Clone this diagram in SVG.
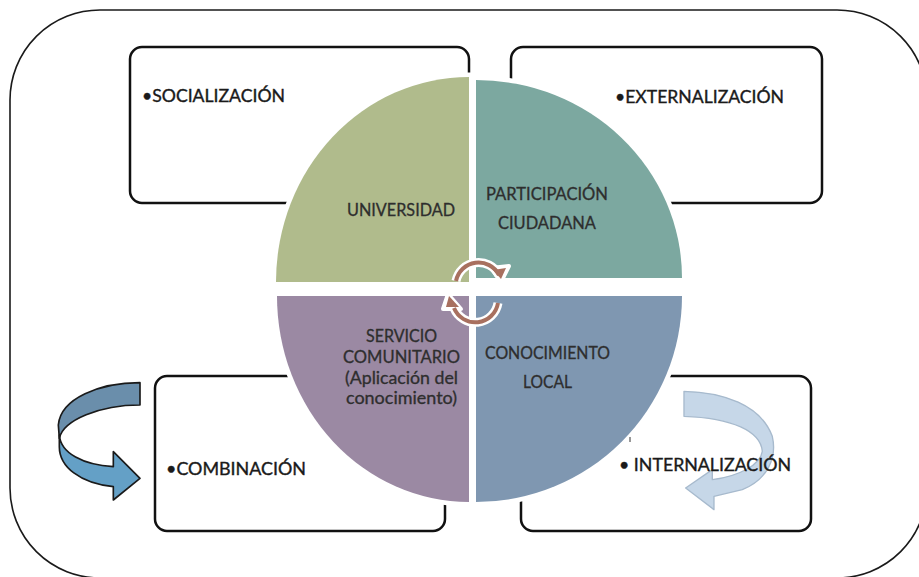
<svg xmlns="http://www.w3.org/2000/svg" width="919" height="577" viewBox="0 0 919 577">
<style>
.box{fill:#fff;stroke:#111;stroke-width:2.5}
.q{stroke:#fff;stroke-width:9;paint-order:stroke}
.lbl{font-family:Lato,"Open Sans","Liberation Sans",sans-serif;font-size:16.5px;fill:#1a1a1a;stroke:#1a1a1a;stroke-width:0.35}
.ql{font-family:Lato,"Open Sans","Liberation Sans",sans-serif;font-size:16.5px;fill:#2e2e2e;stroke:#2e2e2e;stroke-width:0.3}
.cyc{fill:none;stroke-linecap:butt}
</style>
<rect width="919" height="577" fill="#fff"/>
<rect x="10" y="10" width="917" height="568" rx="90" ry="90" fill="none" stroke="#1a1a1a" stroke-width="1.6"/>

<g id="box-socializacion">
<rect class="box" x="130" y="47" width="339" height="156" rx="12"/>
</g>
<g id="box-externalizacion">
<rect class="box" x="511" y="47" width="311" height="156" rx="12"/>
</g>
<g id="box-combinacion">
<rect class="box" x="155" y="376" width="290" height="155" rx="12"/>
</g>
<g id="box-internalizacion">
<rect class="box" x="521" y="376" width="290" height="155" rx="12"/>
</g>

<g id="q-universidad">
<path class="q" fill="#b0bb8c" d="M469 282 L276 282 A193 205 0 0 1 469 77 Z"/>
</g>
<g id="q-participacion">
<path class="q" fill="#7ca8a0" d="M476 278 L476 80 A206 198 0 0 1 682 278 Z"/>
</g>
<g id="q-servicio">
<path class="q" fill="#9b89a3" d="M469 296 L469 502 A192 206 0 0 1 277 296 Z"/>
</g>
<g id="q-conocimiento">
<path class="q" fill="#7f97b1" d="M476 296 L682 296 A206 206 0 0 1 476 502 Z"/>
</g>

<g id="connectors">
<g id="cycle-arrows">
<path class="cyc" d="M456 281 A23 23 0 0 1 499 275" stroke="#fff" stroke-width="9"/>
<polygon points="491,268 509,266 501,282" fill="#fff" stroke="#fff" stroke-width="4" stroke-linejoin="round"/>
<path class="cyc" d="M456 281 A23 23 0 0 1 499 275" stroke="#a8705f" stroke-width="4"/>
<polygon points="493,270 506,268 501,279" fill="#a8705f"/>
<path class="cyc" d="M498 303 A23 23 0 0 1 454 308" stroke="#fff" stroke-width="9"/>
<polygon points="461,309 443,309 448,294" fill="#fff" stroke="#fff" stroke-width="4" stroke-linejoin="round"/>
<path class="cyc" d="M498 303 A23 23 0 0 1 454 308" stroke="#a8705f" stroke-width="4"/>
<polygon points="459,307 446,307 449,296" fill="#a8705f"/>
</g>
<g id="arrow-left" transform="translate(40 370) scale(0.3333)">
<path d="M300 38 C180 38 62 85 55 165 L58 205 C70 150 180 105 300 105 Z" fill="#6a8eab" stroke="#1a1a1a" stroke-width="5" stroke-linejoin="round"/>
<path d="M58 195 C62 250 130 285 220 290 L220 245 L300 325 L220 390 L220 350 C120 340 58 290 58 230 Z" fill="#64a0c6" stroke="#1a1a1a" stroke-width="5" stroke-linejoin="round"/>
</g>
<g id="arrow-right" transform="translate(459 288) scale(0.3333)">
<path d="M675 310 C790 312 905 350 940 445 C955 510 925 575 850 605 L765 625 L765 665 L680 600 L760 545 L760 575 C840 565 905 530 910 490 C905 430 820 390 675 385 Z" fill="#c6d7e8" stroke="#a7bacd" stroke-width="4" stroke-linejoin="round"/>
</g>
</g>

<line x1="630" y1="437" x2="630" y2="442" stroke="#333" stroke-width="1"/>

<g id="labels">
<text class="lbl" x="142" y="102" textLength="143" lengthAdjust="spacingAndGlyphs">•SOCIALIZACIÓN</text>
<text class="lbl" x="615" y="103" textLength="169" lengthAdjust="spacingAndGlyphs">•EXTERNALIZACIÓN</text>
<text class="lbl" x="166" y="475" textLength="140" lengthAdjust="spacingAndGlyphs">•COMBINACIÓN</text>
<text class="lbl" x="619" y="471" textLength="172" lengthAdjust="spacingAndGlyphs">• INTERNALIZACIÓN</text>
<text class="ql" x="347" y="216" textLength="108" lengthAdjust="spacingAndGlyphs">UNIVERSIDAD</text>
<text class="ql" x="486" y="200" textLength="122" lengthAdjust="spacingAndGlyphs">PARTICIPACIÓN</text>
<text class="ql" x="498" y="229" textLength="98" lengthAdjust="spacingAndGlyphs">CIUDADANA</text>
<text class="ql" x="366" y="342" textLength="71" lengthAdjust="spacingAndGlyphs">SERVICIO</text>
<text class="ql" x="343" y="363" textLength="117" lengthAdjust="spacingAndGlyphs">COMUNITARIO</text>
<text class="ql" x="345" y="384" textLength="113" lengthAdjust="spacingAndGlyphs">(Aplicación del</text>
<text class="ql" x="346" y="404" textLength="111" lengthAdjust="spacingAndGlyphs">conocimiento)</text>
<text class="ql" x="485" y="359" textLength="125" lengthAdjust="spacingAndGlyphs">CONOCIMIENTO</text>
<text class="ql" x="523" y="388" textLength="49" lengthAdjust="spacingAndGlyphs">LOCAL</text>
</g>
</svg>
